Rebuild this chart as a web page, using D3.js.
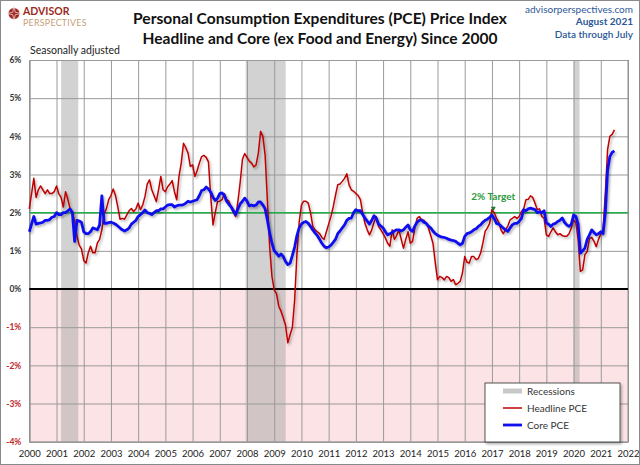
<!DOCTYPE html>
<html><head><meta charset="utf-8">
<script src="https://cdn.jsdelivr.net/npm/d3@7"></script>
<style>body{margin:0;background:#fff}svg{display:block}</style>
</head><body>
<svg id="c" width="640" height="465"></svg>
<script>
// ---- data (monthly year-over-year %, Jan 2000 .. Jul 2021) ----
const startYear = 2000;
const headline = [
 2.1,2.5,2.9,2.4,2.6,2.7,2.6,2.5,2.6,2.5,2.5,2.55,
 2.7,2.5,2.4,2.15,2.55,2.35,2.1,2.0,1.75,1.4,1.15,1.05,
 0.75,0.68,0.95,1.12,0.95,0.95,1.2,1.3,1.55,1.98,2.1,2.34,
 2.45,2.62,2.45,2.16,1.83,1.85,1.83,1.94,2.05,2.11,2.03,2.1,
 2.25,2.08,2.2,2.42,2.75,2.86,2.6,2.45,2.29,2.6,2.95,2.6,
 2.55,2.68,2.75,2.84,2.55,2.34,2.95,3.3,3.82,3.7,3.56,3.21,
 3.25,2.95,3.1,3.3,3.47,3.5,3.45,3.33,2.42,1.68,2.0,2.29,
 2.3,2.34,2.5,2.34,2.3,2.16,2.0,1.9,2.3,2.8,3.4,3.55,
 3.45,3.35,3.3,3.2,3.25,3.56,4.13,4.0,3.5,2.3,1.1,0.33,
 -0.02,-0.12,-0.45,-0.58,-0.76,-0.95,-1.41,-1.2,-1.0,-0.3,0.9,1.75,
 2.2,2.3,2.3,2.25,2.0,1.65,1.55,1.5,1.45,1.35,1.3,1.5,
 1.7,1.9,2.15,2.45,2.73,2.75,2.82,2.9,3.02,2.73,2.6,2.56,
 2.5,2.45,2.34,2.0,1.72,1.55,1.42,1.55,1.75,1.9,1.64,1.55,
 1.45,1.34,1.2,1.12,1.55,1.3,1.4,1.55,1.3,1.07,1.3,1.5,
 1.2,1.25,1.6,1.85,1.9,1.8,1.8,1.72,1.6,1.4,1.2,0.7,
 0.24,0.33,0.3,0.24,0.33,0.3,0.2,0.25,0.11,0.15,0.2,0.42,
 0.85,0.7,0.68,0.85,0.85,0.77,0.8,0.94,1.2,1.51,1.6,1.72,
 2.08,2.0,1.86,1.75,1.55,1.45,1.55,1.65,1.81,1.85,1.9,1.85,
 1.9,2.03,2.1,2.34,2.35,2.44,2.4,2.25,2.08,2.1,1.9,1.85,
 1.42,1.38,1.5,1.6,1.5,1.42,1.45,1.4,1.38,1.38,1.45,1.6,
 1.81,1.75,1.3,0.46,0.5,0.9,0.98,1.33,1.35,1.25,1.11,1.3,
 1.45,1.55,2.5,3.65,4.0,4.05,4.17
];
const core = [
 1.5,1.7,1.9,1.7,1.72,1.73,1.75,1.8,1.8,1.82,1.88,1.9,
 2.0,1.95,1.95,2.0,2.0,2.05,2.1,2.0,1.25,1.8,1.78,1.75,
 1.5,1.45,1.45,1.5,1.6,1.58,1.55,1.68,2.44,1.72,1.72,1.74,
 1.75,1.73,1.7,1.65,1.6,1.55,1.52,1.55,1.6,1.7,1.75,1.8,
 1.9,1.95,2.0,2.07,2.0,1.98,1.95,2.0,2.05,2.05,2.1,2.1,
 2.15,2.2,2.21,2.21,2.15,2.18,2.2,2.2,2.21,2.25,2.3,2.28,
 2.3,2.32,2.34,2.45,2.58,2.6,2.67,2.62,2.54,2.4,2.32,2.38,
 2.5,2.52,2.45,2.3,2.22,2.15,2.05,1.95,2.1,2.23,2.3,2.38,
 2.3,2.18,2.2,2.18,2.2,2.28,2.28,2.2,2.1,1.8,1.47,1.2,
 1.0,0.94,0.86,0.92,0.85,0.72,0.64,0.68,0.88,1.1,1.4,1.6,
 1.7,1.75,1.77,1.72,1.64,1.55,1.47,1.4,1.3,1.2,1.12,1.08,
 1.1,1.15,1.22,1.3,1.45,1.52,1.6,1.68,1.8,1.85,1.86,2.0,
 2.08,2.05,2.05,1.95,1.86,1.78,1.7,1.8,1.92,1.85,1.7,1.65,
 1.6,1.5,1.42,1.45,1.48,1.52,1.55,1.55,1.52,1.55,1.62,1.68,
 1.55,1.51,1.65,1.75,1.8,1.81,1.75,1.72,1.65,1.6,1.52,1.45,
 1.41,1.38,1.36,1.35,1.33,1.3,1.28,1.27,1.25,1.2,1.16,1.2,
 1.38,1.45,1.47,1.5,1.55,1.58,1.64,1.68,1.75,1.8,1.83,1.88,
 1.94,1.85,1.72,1.7,1.65,1.6,1.55,1.51,1.6,1.68,1.72,1.72,
 1.77,1.85,2.08,2.05,2.1,2.12,2.1,2.08,2.0,2.02,2.0,2.05,
 1.73,1.7,1.64,1.7,1.72,1.77,1.8,1.86,1.75,1.68,1.64,1.7,
 1.94,1.9,1.7,0.94,1.0,1.07,1.3,1.42,1.55,1.48,1.42,1.45,
 1.5,1.45,2.0,3.12,3.47,3.58,3.62
];
const recessions = [[2001.17, 2001.8], [2007.95, 2009.42], [2020.0, 2020.22]];
const yTicks = [6, 5, 4, 3, 2, 1, 0, -1, -2, -3, -4];
const xTicks = d3.range(2000, 2023);
const targetValue = 2;
const targetLabel = "2% Target";
const titleLines = ["Personal Consumption Expenditures (PCE) Price Index", "Headline and Core (ex Food and Energy) Since 2000"];
const sourceLines = ["advisorperspectives.com", "August 2021", "Data through July"];
const legendItems = ["Recessions", "Headline PCE", "Core PCE"];

// ---- drawing ----
const F = "Lato, 'Open Sans', sans-serif";
const svg = d3.select("#c");
const x = d3.scaleLinear().domain([2000, 2022]).range([29.3, 628]);
const y = d3.scaleLinear().domain([-4, 6]).range([441.7, 60]);

const defs = svg.append("defs");
const f = defs.append("filter").attr("id", "sh").attr("x", "-5%").attr("y", "-10%").attr("width", "110%").attr("height", "130%");
f.append("feDropShadow").attr("dx", 1.5).attr("dy", 1.8).attr("stdDeviation", 0.9)
  .attr("flood-color", "#000").attr("flood-opacity", 0.3);

svg.append("rect").attr("x", 0).attr("y", 0).attr("width", 640).attr("height", 465).attr("fill", "#fff");

// negative region
svg.append("rect").attr("x", x(2000)).attr("y", y(0)).attr("width", x(2022) - x(2000))
  .attr("height", y(-4) - y(0)).attr("fill", "#fce3e5");

// recession bands
svg.append("g").selectAll("rect").data(recessions).join("rect")
  .attr("x", d => x(d[0])).attr("width", d => x(d[1]) - x(d[0]))
  .attr("y", y(6)).attr("height", y(-4) - y(6))
  .attr("fill", "#a9a9a9").attr("opacity", 0.52);

// gridlines via axes
const gx = svg.append("g").attr("transform", `translate(0,${y(-4)})`)
  .call(d3.axisBottom(x).tickValues(xTicks).tickFormat(d3.format("d")).tickSize(-(y(-4) - y(6))).tickPadding(9));
gx.select(".domain").attr("stroke", "#8c8c8c");
gx.selectAll(".tick line").attr("stroke", "#9a9a9a").attr("stroke-width", 1);
gx.selectAll(".tick text").attr("font-family", F).attr("font-size", 9.5).attr("fill", "#222");

const gy = svg.append("g").attr("transform", `translate(${x(2000)},0)`)
  .call(d3.axisLeft(y).tickValues(yTicks).tickFormat(d => d + "%").tickSize(-(x(2022) - x(2000))).tickPadding(8));
gy.select(".domain").attr("stroke", "#8c8c8c");
gy.selectAll(".tick line").attr("stroke", "#9a9a9a").attr("stroke-width", 1);
gy.selectAll(".tick text").attr("font-family", F).attr("font-size", 8.5).attr("font-weight", "bold")
  .attr("fill", d => d < 0 ? "#c0282d" : "#333");

// right border
svg.append("line").attr("x1", x(2022)).attr("x2", x(2022)).attr("y1", y(6)).attr("y2", y(-4)).attr("stroke", "#8c8c8c");

// zero line
svg.append("line").attr("x1", x(2000)).attr("x2", x(2022)).attr("y1", y(0)).attr("y2", y(0))
  .attr("stroke", "#000").attr("stroke-width", 2);

// target line
svg.append("line").attr("x1", x(2000)).attr("x2", x(2022)).attr("y1", y(targetValue)).attr("y2", y(targetValue))
  .attr("stroke", "#22b04b").attr("stroke-width", 1.5);

// series
const dateOf = i => startYear + i / 12;
const line = d3.line().x((d, i) => x(dateOf(i))).y(d => y(d));
svg.append("path").datum(headline).attr("d", line).attr("fill", "none")
  .attr("stroke", "#c00000").attr("stroke-width", 1.5).attr("stroke-linejoin", "round").attr("filter", "url(#sh)");
svg.append("path").datum(core).attr("d", line).attr("fill", "none")
  .attr("stroke", "#1010ee").attr("stroke-width", 2.8).attr("stroke-linejoin", "round").attr("filter", "url(#sh)");

// target label
const tx = x(2017.05);
svg.append("path").attr("d", `M${tx - 2.5},${y(targetValue) - 6} L${tx + 2.5},${y(targetValue) - 6} L${tx},${y(targetValue) - 1.5} Z`)
  .attr("fill", "#1e7a2e");
svg.append("text").attr("x", tx).attr("y", y(targetValue) - 13).attr("text-anchor", "middle")
  .attr("font-family", F).attr("font-size", 10).attr("font-weight", "bold").attr("fill", "#2a9a3a").text(targetLabel);

// legend
const lg = svg.append("g").attr("transform", "translate(485,383)");
lg.append("rect").attr("width", 135).attr("height", 59).attr("fill", "#fff").attr("stroke", "#555").attr("filter", "url(#sh)");
const li = lg.selectAll("g").data(legendItems).join("g").attr("transform", (d, i) => `translate(0,${8 + i * 17})`);
li.append("line").attr("x1", 18).attr("x2", 37).attr("y1", 0).attr("y2", 0)
  .attr("stroke", (d, i) => ["#c8c8c8", "#c00000", "#1010ee"][i]).attr("stroke-width", (d, i) => [5, 1.5, 2.8][i]);
li.append("text").attr("x", 42).attr("y", 3.5).attr("font-family", F).attr("font-size", 10).attr("fill", "#333").text(d => d);

// titles
const tg = svg.append("g");
titleLines.forEach((t, i) => {
  const el = tg.append("text").attr("x", 320).attr("y", i === 0 ? 24 : 44).attr("text-anchor", "middle")
    .attr("font-family", F).attr("font-weight", "bold").attr("font-size", 16).attr("fill", "#111").text(t);
  const target = i === 0 ? 374 : 355;
  const w = el.node().getComputedTextLength();
  el.attr("font-size", 16 * target / w);
});
sourceLines.forEach((t, i) => {
  svg.append("text").attr("x", 633).attr("y", 13 + i * 12.3).attr("text-anchor", "end")
    .attr("font-family", F).attr("font-size", 10).attr("font-weight", i === 1 ? "bold" : (i === 2 ? "600" : "normal"))
    .attr("fill", "#2b5797").text(t);
});
svg.append("text").attr("x", 30).attr("y", 54).attr("font-family", F).attr("font-size", 10.5).attr("fill", "#222").text("Seasonally adjusted");

// logo
const logo = svg.append("g");
logo.append("circle").attr("cx", 14).attr("cy", 13.5).attr("r", 5.5).attr("fill", "#a32a24");
logo.append("path").attr("d", "M14,6 L15.2,12.3 L21.5,13.5 L15.2,14.7 L14,21 L12.8,14.7 L6.5,13.5 L12.8,12.3 Z").attr("fill", "#a32a24").attr("stroke", "#fff").attr("stroke-width", 0.6);
logo.append("text").attr("x", 23).attr("y", 15).attr("font-family", F).attr("font-weight", "bold").attr("font-size", 10.5).attr("fill", "#9b2a22").text("ADVISOR");
logo.append("text").attr("x", 23).attr("y", 26).attr("font-family", F).attr("font-size", 8.8).attr("letter-spacing", 0.3).attr("fill", "#c4a077").text("PERSPECTIVES");

// outer frame
svg.append("rect").attr("x", 0.5).attr("y", 0.5).attr("width", 639).attr("height", 464).attr("fill", "none").attr("stroke", "#8a8a8a");
</script>
</body></html>
